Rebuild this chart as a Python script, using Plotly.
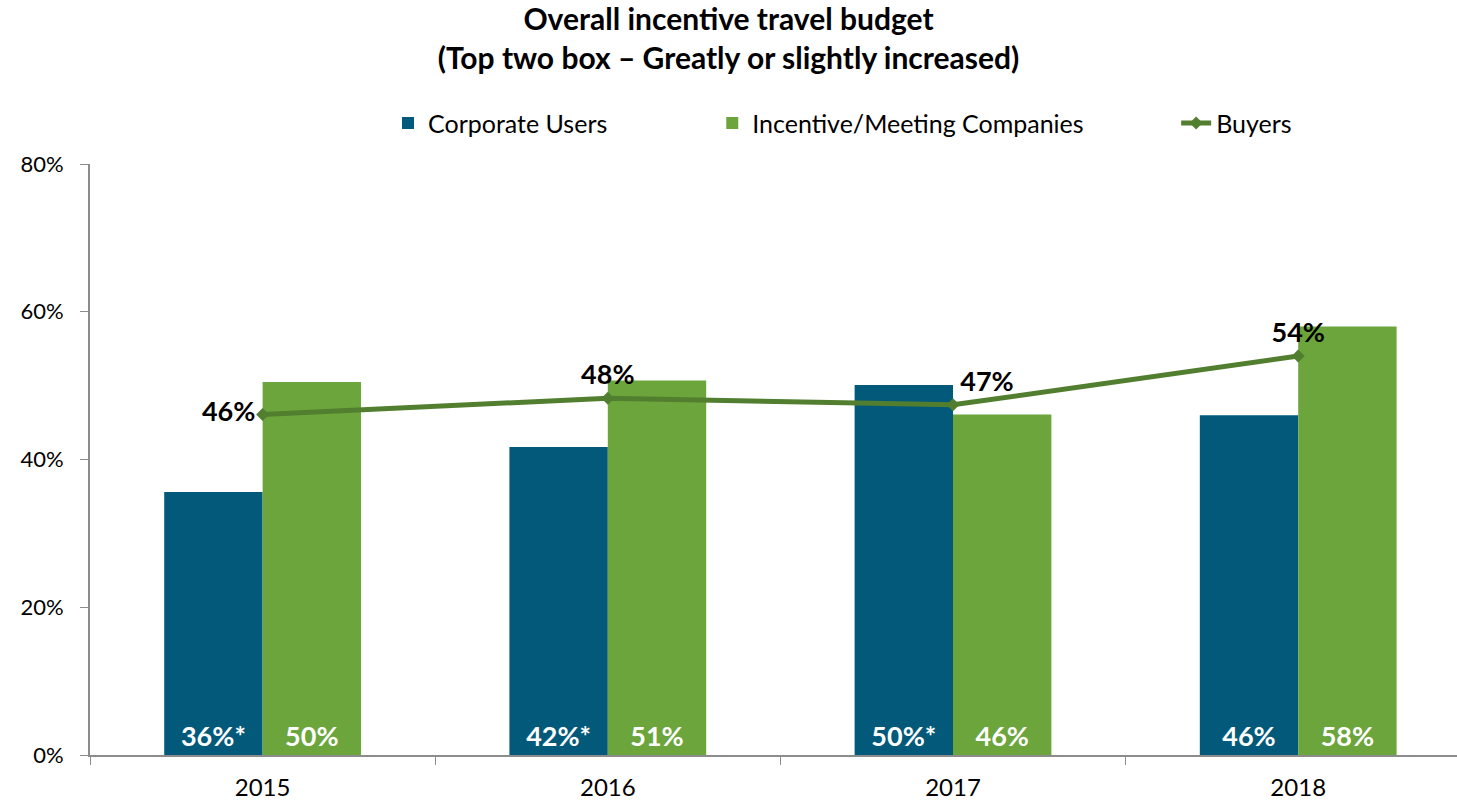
import plotly.graph_objects as go

# ── データ ─────────────────────────────────────────
years = ["2015", "2016", "2017", "2018"]
corporate = [35.6, 41.7, 50.1, 46.0]
incentive = [50.5, 50.7, 46.1, 58.0]
buyers = [46.1, 48.3, 47.4, 54.0]
corporate_labels = ["36%*", "42%*", "50%*", "46%"]
incentive_labels = ["50%", "51%", "46%", "58%"]
buyers_labels = ["46%", "48%", "47%", "54%"]
y_tickvals = [0, 20, 40, 60, 80]
y_ticktext = ["0%", "20%", "40%", "60%", "80%"]

C_CORP = "#02597A"
C_INC = "#6CA53B"
C_LINE = "#527F2F"
FONT = "Lato, sans-serif"
EN = "\u2002"  # 凡例の間隔調整用


def bold(labels):
    return [f"<b>{t}</b>" for t in labels]


fig = go.Figure()
fig.add_trace(go.Bar(
    x=years, y=corporate, name="Corporate Users" + EN * 8,
    marker=dict(color=C_CORP, line=dict(width=0)),
    text=bold(corporate_labels),
    textposition="inside", insidetextanchor="start", constraintext="none",
    textfont=dict(size=27, color="white", family=FONT),
    hoverinfo="skip",
))
fig.add_trace(go.Bar(
    x=years, y=incentive, name="Incentive/Meeting Companies" + EN * 7,
    marker=dict(color=C_INC, line=dict(width=0)),
    text=bold(incentive_labels),
    textposition="inside", insidetextanchor="start", constraintext="none",
    textfont=dict(size=27, color="white", family=FONT),
    hoverinfo="skip",
))
fig.add_trace(go.Scatter(
    x=years, y=buyers, name="Buyers", mode="lines+markers+text",
    line=dict(color=C_LINE, width=5),
    marker=dict(symbol="diamond", size=10, color=C_LINE),
    text=bold(buyers_labels),
    textposition=["middle left", "top center", "top right", "top center"],
    textfont=dict(size=27, color="black", family=FONT),
    cliponaxis=False,
))

fig.update_layout(
    width=1457, height=801,
    paper_bgcolor="white", plot_bgcolor="white",
    font=dict(family=FONT, color="black", size=20),
    title=dict(
        text="<b>Overall incentive travel budget<br>(Top two box – Greatly or slightly increased)</b>",
        x=0.5, xanchor="center", y=0.962, yanchor="top",
        font=dict(size=30, family=FONT, color="black"),
    ),
    margin=dict(l=90, r=0, t=164, b=46),
    barmode="group", bargap=0.43, bargroupgap=0,
    legend=dict(
        orientation="h", yanchor="middle", y=1.069, xanchor="left", x=0.218,
        bgcolor="rgba(0,0,0,0)", font=dict(size=25, color="black", family=FONT),
    ),
    xaxis=dict(
        type="category", range=[-0.5, 3.46],
        showline=True, linecolor="#8C8C8C", linewidth=2,
        ticks="outside", tickson="boundaries", ticklen=8, tickcolor="#8C8C8C",
        ticklabelstandoff=10,
        tickfont=dict(size=24, color="black"), showgrid=False, zeroline=False,
    ),
    yaxis=dict(
        range=[0, 80], tickmode="array", tickvals=y_tickvals, ticktext=y_ticktext,
        showline=True, linecolor="#8C8C8C", linewidth=2,
        ticks="outside", ticklen=8, tickcolor="#8C8C8C",
        ticklabelstandoff=12,
        tickfont=dict(size=22, color="black"), showgrid=False, zeroline=False,
    ),
)

fig.write_html("out.html", config={"displayModeBar": False},
               post_script="document.body.style.margin='0';")
